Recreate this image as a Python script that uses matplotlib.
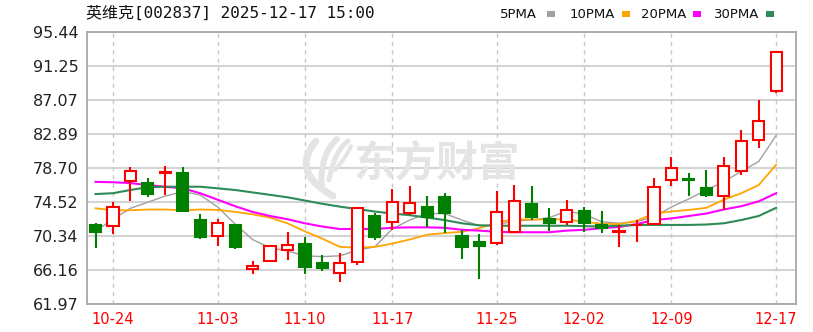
import numpy as np
import matplotlib
matplotlib.use("Agg")
import matplotlib.pyplot as plt
from matplotlib.patches import Rectangle

# daily candles, 10-23 .. 12-17
dates = ["10-23", "10-24", "10-27", "10-28", "10-29", "10-30", "10-31",
         "11-03", "11-04", "11-05", "11-06", "11-07", "11-10", "11-11",
         "11-12", "11-13", "11-14", "11-17", "11-18", "11-19", "11-20",
         "11-21", "11-24", "11-25", "11-26", "11-27", "11-28", "12-01",
         "12-02", "12-03", "12-04", "12-05", "12-08", "12-09", "12-10",
         "12-11", "12-12", "12-15", "12-16", "12-17"]
opens = [71.70, 71.58, 77.15, 76.90, 78.10, 78.06, 72.32, 70.35, 71.70, 66.25,
         67.31, 68.63, 69.36, 67.06, 65.76, 67.19, 72.81, 72.11, 73.21, 73.95,
         75.18, 70.35, 69.65, 69.45, 70.88, 74.25, 72.40, 72.11, 73.46, 71.70,
         70.85, 71.65, 71.82, 77.24, 77.30, 76.29, 75.27, 78.34, 82.16, 88.22]
closes = [70.88, 73.95, 78.38, 75.51, 78.25, 73.46, 70.19, 71.91, 69.03, 66.69,
          69.12, 69.24, 66.57, 66.37, 66.99, 73.75, 70.26, 74.57, 74.37, 72.65,
          73.14, 69.03, 69.16, 73.34, 74.69, 72.72, 71.98, 73.55, 71.91, 71.37,
          70.92, 71.72, 76.41, 78.75, 77.20, 75.39, 78.96, 82.03, 84.53, 92.94]
highs = [71.91, 74.57, 78.80, 77.44, 78.99, 78.80, 73.05, 72.44, 71.82, 67.31,
         69.20, 70.88, 70.19, 68.01, 68.22, 73.95, 73.21, 76.09, 76.50, 75.27,
         75.60, 71.09, 70.59, 75.92, 76.62, 76.50, 73.75, 74.77, 73.88, 73.46,
         71.70, 72.32, 77.45, 80.03, 78.06, 78.47, 80.10, 83.42, 87.08, 92.94]
lows = [68.84, 70.59, 74.69, 75.11, 75.39, 73.30, 69.98, 69.12, 68.71, 65.64,
        67.20, 67.40, 65.67, 66.04, 64.73, 66.78, 69.86, 71.09, 72.93, 71.49,
        70.68, 67.48, 65.02, 69.24, 70.75, 72.32, 71.00, 71.70, 70.88, 70.75,
        68.96, 69.65, 71.70, 76.53, 75.27, 75.18, 73.55, 77.85, 81.14, 87.97]

ma5 = [70.96, 72.4, 73.75, 74.5, 75.25, 75.8, 75.39, 73.9, 71.8, 69.9,
       68.9, 68.5, 67.9, 67.8, 67.9, 68.6, 69.0, 71.2, 72.3, 73.1,
       73.1, 72.3, 71.6, 71.7, 72.2, 72.3, 72.6, 73.4, 73.0, 72.1,
       71.9, 72.1, 72.7, 73.9, 74.9, 76.0, 77.0, 78.3, 79.5, 82.7]
ma10 = [73.75, 73.5, 73.5, 73.6, 73.6, 73.5, 73.6, 73.55, 73.3, 73.0,
        72.6, 71.9, 70.9, 70.0, 69.0, 68.9, 69.0, 69.4, 69.9, 70.5,
        70.7, 70.85, 71.3, 72.0, 72.4, 72.35, 72.4, 72.35, 72.1, 71.85,
        71.8, 72.2, 73.1, 73.35, 73.55, 73.8, 74.8, 75.6, 76.6, 79.1]
ma20 = [77.0, 76.95, 76.85, 76.6, 76.4, 76.2, 75.6, 74.8, 74.0, 73.3,
        72.8, 72.4, 71.9, 71.5, 71.2, 71.2, 71.2, 71.35, 71.4, 71.4,
        71.35, 71.1, 71.0, 70.85, 70.8, 70.8, 70.8, 71.0, 71.1, 71.3,
        71.45, 71.8, 72.3, 72.5, 72.8, 73.1, 73.6, 74.0, 74.6, 75.6]
ma30 = [75.5, 75.6, 76.0, 76.35, 76.4, 76.4, 76.4, 76.2, 76.0, 75.7,
        75.4, 75.1, 74.7, 74.3, 73.95, 73.65, 73.35, 73.1, 72.9, 72.6,
        72.3, 71.9, 71.65, 71.6, 71.6, 71.6, 71.6, 71.6, 71.55, 71.5,
        71.6, 71.7, 71.7, 71.7, 71.7, 71.75, 71.9, 72.3, 72.8, 73.8]

tick_dates = ["10-24", "11-03", "11-10", "11-17", "11-25", "12-02", "12-09", "12-17"]
ytick_labels = ["61.97", "66.16", "70.34", "74.52", "78.70", "82.89", "87.07", "91.25", "95.44"]
title = "英维克[002837] 2025-12-17 15:00"
legend_names = ["5PMA", "10PMA", "20PMA", "30PMA"]

RED = "#FF0000"
GREEN = "#008000"
WM = "#E4E4E6"
ma_colors = ["#A0A0A0", "#FFA500", "#FF00FF", "#2E8B57"]

plt.rcParams["font.family"] = ["DejaVu Sans"]

W, H = 813, 332
fig = plt.figure(figsize=(W / 100, H / 100), dpi=100)
ax = fig.add_axes([87 / W, 28 / H, 709 / W, 272 / H])

x = np.arange(len(dates))
ymin, ymax = float(ytick_labels[0]), float(ytick_labels[-1])
ax.set_ylim(ymin, ymax)
ax.set_xlim(-0.49, len(dates) + 0.14)

yt = np.linspace(ymin, ymax, len(ytick_labels))
ax.set_yticks(yt)
ax.set_yticklabels(ytick_labels, fontsize=11.5, color="#222222")
for v in yt:
    ax.axhline(v, color="#D4D4D4", lw=1.5, zorder=0)

xt = [dates.index(d) for d in tick_dates]
ax.set_xticks(xt)
ax.set_xticklabels(tick_dates, fontsize=10.5, color=RED)
for v in xt:
    ax.axvline(v, color="#C8C8C8", lw=1, ls=(0, (3, 3)), zorder=0)
ax.tick_params(length=0, pad=6)

for s in ax.spines.values():
    s.set_color("#A8A8A8")
    s.set_linewidth(1.3)

# watermark: text + rough leaf logo, positioned in pixels
ax.text(0.537, 0.508, "东方财富", transform=fig.transFigure, fontsize=30,
        fontweight="bold", family=["Noto Sans CJK SC"], color=WM,
        ha="center", va="center", zorder=1)


def px_curve(p0, c, p1, n=30):
    t = np.linspace(0, 1, n)[:, None]
    pts = (1 - t) ** 2 * np.array(p0) + 2 * (1 - t) * t * np.array(c) + t ** 2 * np.array(p1)
    return pts[:, 0] / 100, (H - pts[:, 1]) / 100


for p0, c, p1, w in [((316, 141), (290, 172), (333, 196), 7),
                     ((322, 188), (319, 156), (337, 139), 6),
                     ((329, 180), (334, 152), (348, 141), 5),
                     ((335, 170), (347, 156), (351, 146), 4)]:
    cx, cy = px_curve(p0, c, p1)
    ax.plot(cx, cy, color=WM, lw=w * 0.72, solid_capstyle="round",
            transform=fig.dpi_scale_trans, zorder=1)

# moving averages
for vals, c, lw in zip([ma5, ma10, ma20, ma30], ma_colors, [1.0, 1.3, 1.5, 1.5]):
    ax.plot(x, vals, color=c, lw=lw, zorder=2)

# candles
bw = 0.64
for i in range(len(dates)):
    o, c, h, l = opens[i], closes[i], highs[i], lows[i]
    up = c >= o
    col = RED if up else GREEN
    ax.vlines(i, l, h, color=col, lw=1.5, zorder=3)
    lo, hi = min(o, c), max(o, c)
    ax.add_patch(Rectangle((i - bw / 2, lo), bw, max(hi - lo, 0.05),
                           facecolor="white" if up else GREEN, edgecolor=col,
                           lw=1.5, zorder=4))

# title and legend
fig.text(86 / W, 1 - 13 / H, title, fontsize=11.5,
         family=["DejaVu Sans Mono", "Noto Sans CJK SC"], ha="left", va="center",
         color="#111111")
lx = [500, 570, 641, 714]
sq = [547, 622, 693, 766]
for name, c, px, sx in zip(legend_names, ma_colors, lx, sq):
    fig.text(px / W, 1 - 14 / H, name, fontsize=9.5, ha="left",
             va="center", color="#111111")
    fig.patches.append(Rectangle((sx / W, 1 - 17 / H), 8 / W, 6 / H,
                                 facecolor=c, edgecolor="none",
                                 transform=fig.transFigure, figure=fig))

fig.savefig("out.png", dpi=100)
